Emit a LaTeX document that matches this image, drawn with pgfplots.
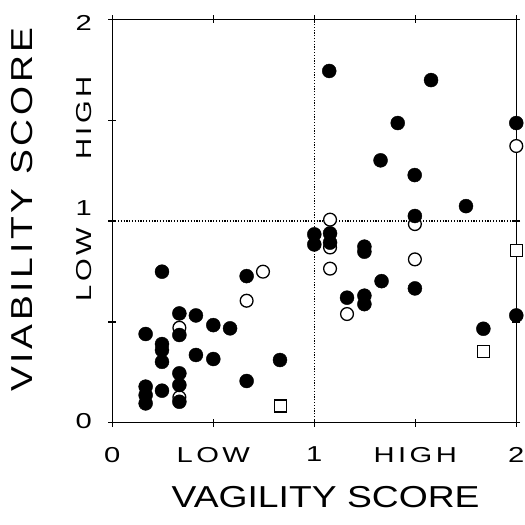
\documentclass[border=0pt]{standalone}
\usepackage{fontspec}
\setmainfont{Liberation Sans}
\newfontfamily\tickfont[FakeStretch=1.35,LetterSpace=16]{Liberation Sans}
\newfontfamily\labfont[FakeStretch=1.23]{Liberation Sans}
\newfontfamily\ylabfont[FakeStretch=1.23,LetterSpace=12]{Liberation Sans}
\usepackage{pgfplots}
\pgfplotsset{compat=1.18}

\newcommand\ticksz{\tickfont\fontsize{10.8}{12}\selectfont}
\newcommand\labsz{\fontsize{15.15}{18}\selectfont}

\begin{document}
\begin{tikzpicture}
\begin{axis}[
  scale only axis, width=202pt, height=201.7pt,
  xmin=0, xmax=2, ymin=0, ymax=2,
  xtick={0,0.5,1,1.5,2}, ytick={0,0.5,1,1.5,2},
  xticklabels={0,LOW,1,HIGH,2}, yticklabels={},
  extra y ticks={0.008,0.784,1.062,1.51,1.98},
  extra y tick labels={0,\rotatebox{90}{LOW},1,\rotatebox{90}{HIGH},2},
  extra y tick style={major tick length=0pt},
  tick align=center, major tick length=3.9pt,
  tick style={black, line width=0.65pt},
  axis line style={line width=0.65pt},
  xticklabel style={font=\ticksz, anchor=north, inner sep=0pt, yshift=-10pt},
  yticklabel style={font=\ticksz, anchor=east, inner sep=0pt, xshift=-10pt},
  xlabel={VAGILITY SCORE}, ylabel={VIABILITY SCORE},
  xlabel style={font=\labfont\labsz, at={(axis description cs:0.528,-0.2115)}, anchor=south, inner sep=0pt},
  ylabel style={font=\ylabfont\labsz, at={(axis description cs:-0.2223,0.5285)}, anchor=center, inner sep=0pt},
  clip=false,
]
% page extent
\path (axis cs:-0.556,-0.507) rectangle (axis cs:2.033,2.096);

% quadrant lines
\addplot[black, line width=0.65pt, dash pattern=on 0.6pt off 0.8pt] coordinates {(1,0) (1,2)};
\addplot[black, line width=0.65pt, dash pattern=on 0.6pt off 0.8pt] coordinates {(0,1) (2,1)};

% squares
\addplot[only marks, mark=square*, mark size=3pt, mark options={fill=white, draw=black, line width=0.6pt}]
  coordinates {(2.0,0.853) (1.837,0.355) (0.832,0.083)};

% open circles
\addplot[only marks, mark=*, mark size=3.2pt, mark options={fill=white, draw=black, line width=0.65pt}]
  coordinates {(2.0,1.372) (1.078,1.007) (1.498,0.985) (1.078,0.869) (1.078,0.764)
  (1.498,0.810) (1.162,0.539) (0.746,0.749) (0.665,0.605) (0.332,0.471) (0.332,0.126)};

% filled circles
\addplot[only marks, mark=*, mark size=3.5pt, mark options={fill=black, draw=black, line width=0.2pt}]
  coordinates {(1.074,1.744) (1.578,1.699) (1.413,1.486) (2.0,1.486) (1.328,1.301)
  (1.497,1.228) (1.751,1.074) (1.498,1.025) (1.0,0.934) (1.0,0.884)
  (1.078,0.939) (1.078,0.893) (1.248,0.873) (1.248,0.848) (1.333,0.702)
  (1.498,0.666) (1.162,0.620) (1.248,0.630) (1.248,0.588) (2.0,0.532)
  (1.837,0.466) (0.246,0.749) (0.665,0.727) (0.332,0.542) (0.414,0.532)
  (0.332,0.435) (0.5,0.484) (0.583,0.468) (0.165,0.440) (0.246,0.390)
  (0.246,0.360) (0.246,0.302) (0.414,0.336) (0.5,0.316) (0.830,0.311)
  (0.665,0.207) (0.332,0.245) (0.332,0.187) (0.246,0.159) (0.165,0.179)
  (0.165,0.137) (0.165,0.096) (0.332,0.104)};
\end{axis}
\end{tikzpicture}
\end{document}
